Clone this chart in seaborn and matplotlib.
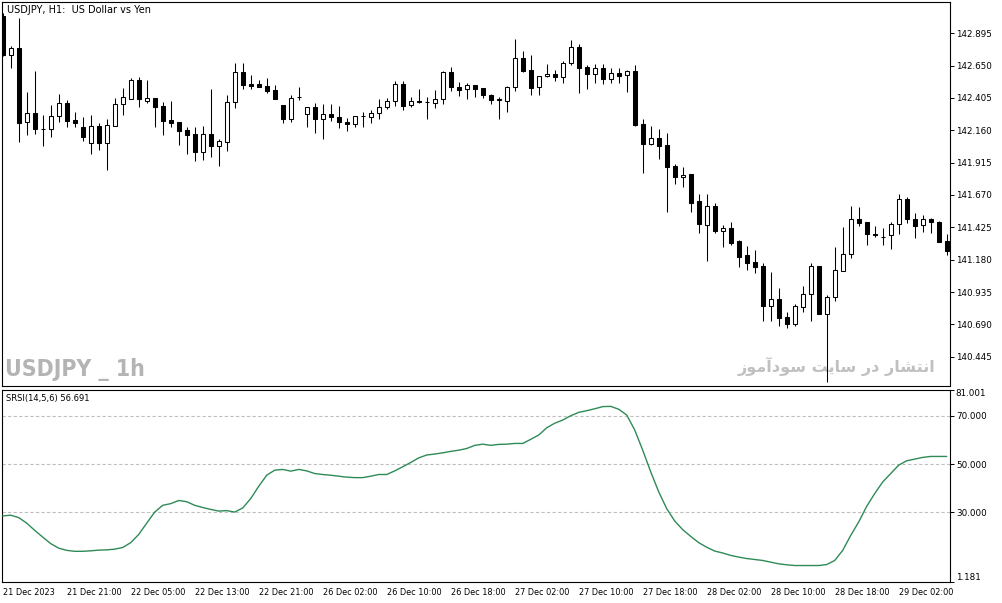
import numpy as np
import pandas as pd
import matplotlib
matplotlib.use('Agg')
import matplotlib.pyplot as plt
from matplotlib import font_manager
import seaborn as sns

# Data (USDJPY H1 candles + SRSI(14,5,6))
opens = [143.026, 142.730, 142.781, 142.223, 142.291, 142.172, 142.170, 142.268, 142.367, 142.238,
         142.187, 142.066, 142.190, 142.066, 142.195, 142.357, 142.399, 142.541, 142.380, 142.402,
         142.342, 142.238, 142.221, 142.162, 142.132, 141.998, 142.132, 142.043, 142.074, 142.372,
         142.602, 142.508, 142.508, 142.496, 142.465, 142.349, 142.243, 142.416, 142.281, 142.339,
         142.243, 142.281, 142.258, 142.225, 142.206, 142.268, 142.263, 142.289, 142.334, 142.382,
         142.508, 142.349, 142.379, 142.377, 142.369, 142.395, 142.602, 142.486, 142.475, 142.501,
         142.478, 142.425, 142.397, 142.380, 142.486, 142.706, 142.615, 142.486, 142.569, 142.587,
         142.562, 142.670, 142.789, 142.637, 142.584, 142.630, 142.546, 142.592, 142.577, 142.607,
         142.206, 142.056, 142.100, 142.049, 141.892, 141.804, 141.829, 141.624, 141.443, 141.586,
         141.400, 141.418, 141.321, 141.215, 141.162, 141.132, 140.831, 140.880, 140.746, 140.695,
         140.824, 140.922, 141.130, 140.766, 140.895, 141.094, 141.221, 141.486, 141.463, 141.372,
         141.353, 141.365, 141.450, 141.637, 141.486, 141.443, 141.486, 141.465, 141.319]
closes = [142.730, 142.781, 142.218, 142.291, 142.170, 142.170, 142.268, 142.367, 142.233, 142.218,
          142.107, 142.190, 142.066, 142.198, 142.357, 142.410, 142.541, 142.399, 142.402, 142.339,
          142.233, 142.218, 142.157, 142.124, 141.998, 142.132, 142.043, 142.077, 142.372, 142.602,
          142.503, 142.498, 142.490, 142.460, 142.395, 142.243, 142.402, 142.412, 142.334, 142.243,
          142.281, 142.258, 142.225, 142.206, 142.266, 142.266, 142.289, 142.334, 142.382, 142.508,
          142.344, 142.382, 142.375, 142.377, 142.395, 142.602, 142.490, 142.465, 142.501, 142.475,
          142.430, 142.392, 142.393, 142.486, 142.706, 142.612, 142.483, 142.569, 142.584, 142.566,
          142.670, 142.789, 142.634, 142.584, 142.630, 142.546, 142.592, 142.574, 142.607, 142.200,
          142.056, 142.100, 142.043, 141.884, 141.809, 141.824, 141.607, 141.448, 141.586, 141.397,
          141.418, 141.309, 141.202, 141.157, 141.127, 140.831, 140.880, 140.740, 140.695, 140.827,
          140.922, 141.130, 140.766, 140.895, 141.102, 141.221, 141.486, 141.460, 141.372, 141.365,
          141.352, 141.450, 141.637, 141.486, 141.437, 141.486, 141.465, 141.316, 141.246]
highs = [143.050, 142.799, 143.008, 142.452, 142.609, 142.276, 142.352, 142.435, 142.389, 142.299,
         142.261, 142.276, 142.215, 142.246, 142.405, 142.480, 142.556, 142.564, 142.541, 142.402,
         142.377, 142.382, 142.221, 142.187, 142.187, 142.195, 142.473, 142.092, 142.427, 142.672,
         142.668, 142.579, 142.541, 142.554, 142.503, 142.349, 142.427, 142.486, 142.334, 142.364,
         142.359, 142.359, 142.344, 142.251, 142.266, 142.296, 142.314, 142.397, 142.405, 142.533,
         142.533, 142.410, 142.471, 142.410, 142.465, 142.609, 142.637, 142.524, 142.518, 142.501,
         142.478, 142.433, 142.414, 142.493, 142.849, 142.761, 142.730, 142.569, 142.660, 142.617,
         142.685, 142.842, 142.814, 142.655, 142.660, 142.660, 142.630, 142.630, 142.617, 142.655,
         142.246, 142.193, 142.170, 142.137, 141.905, 141.880, 141.829, 141.675, 141.677, 141.607,
         141.443, 141.468, 141.329, 141.286, 141.253, 141.157, 141.089, 140.963, 140.786, 140.844,
         140.978, 141.153, 141.134, 140.912, 141.274, 141.425, 141.589, 141.581, 141.463, 141.435,
         141.418, 141.463, 141.677, 141.652, 141.531, 141.518, 141.493, 141.473, 141.374]
lows = [142.720, 142.634, 142.074, 142.124, 142.132, 142.043, 142.111, 142.225, 142.187, 142.187,
        142.081, 141.980, 142.011, 141.859, 142.195, 142.276, 142.399, 142.339, 142.369, 142.187,
        142.124, 142.187, 142.049, 141.980, 141.930, 141.935, 141.955, 141.892, 142.005, 142.327,
        142.471, 142.471, 142.486, 142.445, 142.395, 142.218, 142.225, 142.389, 142.183, 142.142,
        142.092, 142.233, 142.175, 142.157, 142.187, 142.187, 142.218, 142.248, 142.319, 142.344,
        142.314, 142.339, 142.369, 142.243, 142.331, 142.357, 142.460, 142.422, 142.399, 142.414,
        142.407, 142.357, 142.243, 142.301, 142.460, 142.604, 142.430, 142.430, 142.562, 142.536,
        142.521, 142.652, 142.446, 142.471, 142.521, 142.508, 142.516, 142.521, 142.452, 142.193,
        141.834, 142.049, 141.943, 141.543, 141.751, 141.733, 141.543, 141.384, 141.172, 141.384,
        141.274, 141.291, 141.122, 141.102, 141.077, 140.718, 140.718, 140.678, 140.660, 140.678,
        140.786, 140.718, 140.766, 140.256, 140.869, 141.094, 141.195, 141.435, 141.291, 141.354,
        141.291, 141.259, 141.374, 141.460, 141.342, 141.392, 141.384, 141.316, 141.213]
srsi = [28.5, 28.8, 27.8, 25.5, 22.5, 19.7, 17.0, 15.1, 14.2, 13.8,
        13.8, 14.0, 14.3, 14.4, 14.7, 15.4, 17.4, 20.8, 25.5, 30.1,
        32.9, 33.6, 34.9, 34.4, 32.9, 32.0, 31.2, 30.5, 30.7, 30.1,
        31.8, 35.7, 40.8, 45.4, 47.5, 47.8, 47.1, 47.8, 47.2, 46.1,
        45.7, 45.4, 45.0, 44.6, 44.4, 44.4, 45.0, 45.7, 45.7, 47.2,
        48.9, 50.7, 52.6, 53.8, 54.2, 54.7, 55.3, 55.8, 56.5, 57.8,
        58.3, 57.8, 58.2, 58.3, 58.6, 58.6, 60.3, 62.1, 65.1, 67.0,
        68.3, 70.1, 71.5, 72.2, 73.0, 73.9, 74.0, 72.8, 70.4, 64.2,
        55.8, 46.8, 38.5, 31.5, 26.4, 22.8, 20.0, 17.4, 15.5, 13.9,
        13.1, 12.1, 11.4, 10.8, 10.4, 10.0, 9.3, 8.6, 8.2, 7.9,
        7.9, 7.9, 7.9, 8.3, 10.0, 14.2, 20.4, 26.0, 32.5, 37.8,
        42.6, 46.1, 49.6, 51.4, 52.1, 52.8, 53.2, 53.2, 53.2]

time_labels = ['21 Dec 2023', '21 Dec 21:00', '22 Dec 05:00', '22 Dec 13:00', '22 Dec 21:00',
               '26 Dec 02:00', '26 Dec 10:00', '26 Dec 18:00', '27 Dec 02:00', '27 Dec 10:00',
               '27 Dec 18:00', '28 Dec 02:00', '28 Dec 10:00', '28 Dec 18:00', '29 Dec 02:00']
price_ticks = [142.895, 142.650, 142.405, 142.160, 141.915, 141.670, 141.425, 141.180,
               140.935, 140.690, 140.445]
srsi_ticks = [81.001, 70.0, 50.0, 30.0, 1.181]
srsi_levels = [70, 50, 30]

title = 'USDJPY, H1:  US Dollar vs Yen'
ind_label = 'SRSI(14,5,6) 56.691'
watermark = 'USDJPY _ 1h'
# "انتشار در سایت سودآموز" written with Arabic presentation forms in visual order,
# since matplotlib does no RTL shaping
site_words = ['\uFEAF\uFEEE\uFEE3\uFE81\uFEA9\uFEEE\uFEB3',  # سودآموز
              '\uFE96\uFBFE\uFE8E\uFEB3',                    # سایت
              '\uFEAD\uFEA9',                                # در
              '\uFEAD\uFE8E\uFEB8\uFE98\uFEE7\uFE8D']        # انتشار
site_text = ' '.join(site_words)

df = pd.DataFrame({'bar': np.arange(len(opens)), 'open': opens, 'high': highs,
                   'low': lows, 'close': closes, 'srsi': srsi})
df['up'] = df['close'] >= df['open']
df['bottom'] = df[['open', 'close']].min(axis=1)
df['height'] = (df['close'] - df['open']).abs()

sns.set_style('white')
plt.rcParams['font.family'] = ['DejaVu Sans']

# narrow bold face for the big watermark, if there is one
font_names = {f.name for f in font_manager.fontManager.ttflist}
wm_family = 'Liberation Sans Narrow' if 'Liberation Sans Narrow' in font_names else 'DejaVu Sans'

W, H = 1003, 603
fig = plt.figure(figsize=(W / 100, H / 100), dpi=100)
fig.patch.set_facecolor('white')

# pixel layout of the two panes
left_px, right_px = 2, 950
ax = fig.add_axes([left_px / W, 1 - 386 / H, (right_px - left_px) / W, 384 / H])
ax2 = fig.add_axes([left_px / W, 1 - 581.7 / H, (right_px - left_px) / W, 192.2 / H])

for a in (ax, ax2):
    for s in a.spines.values():
        s.set_color('black')
        s.set_linewidth(0.8)
    a.set_xlim(-0.09, 118.41)

# candles
ax.vlines(df['bar'], df['low'], df['high'], color='black', linewidth=0.75, zorder=2)
up = df[df['up']]
dn = df[~df['up']]
ax.bar(up['bar'], up['height'], bottom=up['bottom'], width=0.55, color='white',
       edgecolor='black', linewidth=0.75, zorder=3)
ax.bar(dn['bar'], dn['height'], bottom=dn['bottom'], width=0.55, color='black',
       edgecolor='black', linewidth=0.75, zorder=3)

ax.set_ylim(140.223, 143.132)
ax.set_xticks([])
ax.yaxis.tick_right()
ax.set_yticks(price_ticks)
ax.set_yticklabels([f'{v:.3f}' for v in price_ticks])
ax.tick_params(axis='y', direction='out', length=3, width=0.7, pad=1.2,
               labelsize=6.3, colors='black')

ax.text(5 / 948, (386 - 10) / 384, title, transform=ax.transAxes, fontsize=7,
        va='center', ha='left', color='black')

wm = ax.text(3 / 948, (386 - 376) / 384, watermark, transform=ax.transAxes,
             family=[wm_family, 'DejaVu Sans'], fontsize=18, fontweight='bold',
             fontstretch='condensed', color='#b4b4b4',
             va='baseline', ha='left', zorder=0.5)
site = ax.text((935 - 2) / 948, (386 - 372) / 384, site_text, transform=ax.transAxes,
               fontsize=14, fontweight='bold', color='#c0c0c0',
               va='baseline', ha='right', zorder=0.5)

# indicator pane
for lv in srsi_levels:
    ax2.axhline(lv, color='#c0c0c0', linestyle=(0, (3, 2)), linewidth=0.8, zorder=1)
sns.lineplot(data=df, x='bar', y='srsi', ax=ax2, color='#2e8b57', linewidth=1.0, zorder=3)
ax2.set_xlabel('')
ax2.set_ylabel('')
ax2.set_ylim(1.181, 81.001)
ax2.yaxis.tick_right()
ax2.set_yticks(srsi_ticks)
ax2.set_yticklabels([f'{v:.3f}' for v in srsi_ticks])
ax2.tick_params(axis='y', direction='out', length=3, width=0.7, pad=1.2,
                labelsize=6.3, colors='black')
ylabels = ax2.get_yticklabels()
ylabels[0].set_va('top')
ylabels[-1].set_va('bottom')

ax2.set_xticks(np.arange(0, 8 * len(time_labels), 8))
ax2.set_xticklabels(time_labels)
ax2.tick_params(axis='x', direction='out', length=3.6, width=0.7, pad=0.8,
                labelsize=5.9, colors='black')
for lbl in ax2.get_xticklabels():
    lbl.set_ha('left')

ax2.text(4 / 948, (581.7 - 398.3) / 192.2, ind_label, transform=ax2.transAxes,
         fontsize=6.0, va='center', ha='left', color='black')

# fit the two watermarks to their width in the reference
fig.canvas.draw()
for t, target in ((wm, 140), (site, 198)):
    w = t.get_window_extent().width
    t.set_fontsize(t.get_fontsize() * target / w)

fig.savefig('out.png', dpi=100, facecolor='white')
